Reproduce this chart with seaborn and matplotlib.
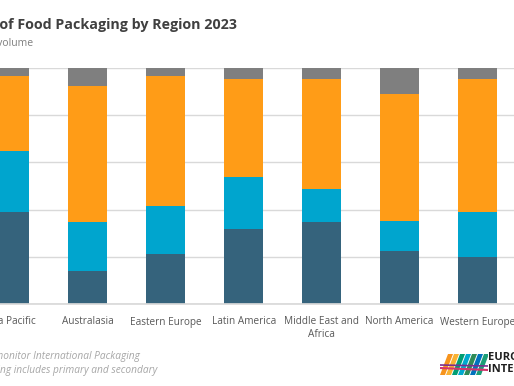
import numpy as np
import pandas as pd
import seaborn as sns
import matplotlib.pyplot as plt
from matplotlib.patches import Polygon

# ── Data (share of retail volume, %) ─────────────────────────────────────────
regions = ["Asia Pacific", "Australasia", "Eastern Europe", "Latin America",
           "Middle East and\nAfrica", "North America", "Western Europe"]
series = ["Flexible Packaging", "Rigid Plastic", "Paper-based", "Other"]
flexible = [39.1, 14.1, 21.3, 31.6, 34.6, 22.5, 19.8]
rigid    = [25.6, 20.8, 20.1, 22.2, 14.0, 12.7, 19.2]
paper    = [32.0, 57.6, 55.3, 41.7, 46.6, 53.8, 56.2]
other    = [3.3, 7.5, 3.3, 4.5, 4.8, 11.0, 4.8]
colors = ["#35637C", "#00A5CE", "#FF9C17", "#7F7F7F"]

df = pd.DataFrame({"region": regions, series[0]: flexible, series[1]: rigid,
                   series[2]: paper, series[3]: other})
cum = df[series].cumsum(axis=1)

sns.set_theme(style="white")
plt.rcParams["font.family"] = ["Open Sans", "DejaVu Sans"]

W, H = 514, 386
fig = plt.figure(figsize=(W / 100, H / 100), dpi=100)
# plot area is partly outside the canvas (the reference is a crop)
x0, x1, yb, yt = -29, 516.5, 304, 68
ax = fig.add_axes([x0 / W, (H - yb) / H, (x1 - x0) / W, (yb - yt) / H])

# stacked bars: draw cumulative totals from the top layer down
for s, c in zip(reversed(series), reversed(colors)):
    sns.barplot(x="region", y=cum[s], data=df.assign(**{s: cum[s]}), color=c,
                width=0.5, linewidth=0, saturation=1, ax=ax)

ax.set_ylim(0, 100)
ax.set_xlim(-0.5, len(regions) - 0.5)
ax.set_yticks([0, 20, 40, 60, 80, 100])
ax.yaxis.grid(True, color="#D9D9D9", lw=1)
ax.set_axisbelow(True)
ax.tick_params(axis="y", left=False, labelleft=False)
for sp in ["left", "right", "top"]:
    ax.spines[sp].set_visible(False)
ax.spines["bottom"].set_color("#D9D9D9")
ax.set_xlabel("")
ax.set_ylabel("")
ax.set_xticks(np.arange(len(regions)))
ax.set_xticklabels(regions, fontsize=7.2, color="#595959", linespacing=1.2)
ax.tick_params(axis="x", length=0, pad=9)
ax.set_xticks(np.arange(len(regions)) - 0.5, minor=True)
ax.tick_params(axis="x", which="minor", length=4, color="#D9D9D9", width=1)

# ── Titles and footer (right-aligned so the crop falls on the left) ──────────
fig.text(237 / W, 1 - 25 / H, "Share of Food Packaging by Region 2023",
         ha="right", va="center", fontsize=10.25, fontweight="bold", color="#404040")
fig.text(33 / W, 1 - 43 / H, "% retail volume", ha="right", va="center",
         fontsize=7.5, color="#7F7F7F")
fig.text(140 / W, 1 - 356 / H, "Source: Euromonitor International Packaging",
         ha="right", va="center", fontsize=7.25, style="italic", color="#A6A6A6")
fig.text(157 / W, 1 - 370 / H, "Note: Packaging includes primary and secondary",
         ha="right", va="center", fontsize=7.25, style="italic", color="#A6A6A6")

# ── Logo (simplified) ────────────────────────────────────────────────────────
lax = fig.add_axes([440 / W, 1 - 375 / H, 48 / W, 21 / H])
lax.set_xlim(0, 48)
lax.set_ylim(0, 21)
lax.axis("off")
stripes = [("#F7941D", 0), ("#F9B233", 6), ("#009E73", 12), ("#00A9CE", 18),
           ("#2E8B57", 24), ("#0072BC", 30), ("#1B9E77", 36)]
for c, dx in stripes:
    lax.add_patch(Polygon([[dx, 0], [dx + 5, 0], [dx + 13, 21], [dx + 8, 21]],
                          closed=True, color=c, lw=0))
lax.plot([0, 48], [7, 5], color="#D6336C", lw=1.5)
lax.plot([0, 48], [10, 9], color="#7B2D8E", lw=1.2)
fig.text(488 / W, 1 - 358 / H, "EUROMONITOR", ha="left", va="center",
         fontsize=8, fontweight="bold", color="#1F1F1F")
fig.text(488 / W, 1 - 369 / H, "INTERNATIONAL", ha="left", va="center",
         fontsize=8, fontweight="bold", color="#1F1F1F")

fig.savefig("out.png", dpi=100)
